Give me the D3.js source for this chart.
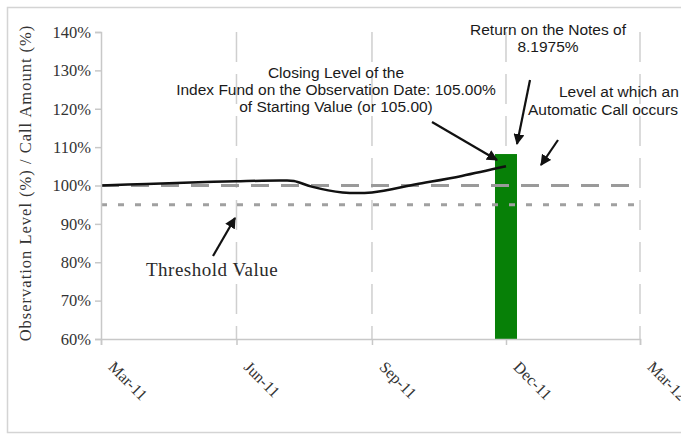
<!DOCTYPE html>
<html>
<head>
<meta charset="utf-8">
<script src="https://cdn.jsdelivr.net/npm/d3@7"></script>
<style>
  body { margin: 0; background: #fff; }
  svg { display: block; }
</style>
</head>
<body>
<svg width="681" height="436"></svg>
<script>
// index level through the year (% of starting value)
var lineDates = ['2011-03-01', '2011-04-01', '2011-05-01', '2011-06-01', '2011-07-01', '2011-07-10',
                 '2011-07-22', '2011-08-12', '2011-09-01', '2011-10-01', '2011-11-01', '2011-12-01'];
var lineValues = [100.0, 100.4, 100.8, 101.1, 101.3, 101.2, 99.7, 98.2, 98.2, 100.3, 102.5, 105.0];

// call amount bar on the observation date
var barDate = '2011-12-01';
var barValue = 108.1975;

var callLevel = 100;
var thresholdLevel = 95;

var tickDates = ['2011-03-01', '2011-06-01', '2011-09-01', '2011-12-01', '2012-03-01'];
var yTicks = [60, 70, 80, 90, 100, 110, 120, 130, 140];

var parse = d3.timeParse('%Y-%m-%d');
var fmt = d3.timeFormat('%b-%y');

var svg = d3.select('svg');

// outer frame
svg.append('rect')
    .attr('x', 7.5).attr('y', 7.5)
    .attr('width', 700).attr('height', 425)
    .attr('fill', 'none')
    .attr('stroke', '#d4d4d4')
    .attr('stroke-width', 1.5);

var xScale = d3.scaleTime()
    .domain([parse('2011-03-01'), parse('2012-03-01')])
    .range([101, 640]);

var yScale = d3.scaleLinear()
    .domain([60, 140])
    .range([339, 32]);

// vertical grid lines
svg.selectAll('line.grid')
    .data(tickDates.slice(1))
    .enter()
    .append('line')
    .attr('class', 'grid')
    .attr('x1', function(d) { return xScale(parse(d)); })
    .attr('x2', function(d) { return xScale(parse(d)); })
    .attr('y1', yScale(140))
    .attr('y2', yScale(60))
    .attr('stroke', '#cfcfcf')
    .attr('stroke-width', 1.5)
    .attr('stroke-dasharray', '30,12');

// bar
var barW = 22;
svg.append('rect')
    .attr('x', xScale(parse(barDate)) - barW / 2)
    .attr('y', yScale(barValue))
    .attr('width', barW)
    .attr('height', yScale(60) - yScale(barValue))
    .style('fill', '#078007');

// reference lines
svg.append('line')
    .attr('x1', xScale.range()[0]).attr('x2', xScale.range()[1])
    .attr('y1', yScale(callLevel)).attr('y2', yScale(callLevel))
    .attr('stroke', '#9a9a9a')
    .attr('stroke-width', 3)
    .attr('stroke-dasharray', '18,12');

svg.append('line')
    .attr('x1', xScale.range()[0]).attr('x2', xScale.range()[1])
    .attr('y1', yScale(thresholdLevel)).attr('y2', yScale(thresholdLevel))
    .attr('stroke', '#a0a0a0')
    .attr('stroke-width', 3)
    .attr('stroke-dasharray', '6,11');

// index line
var pts = lineDates.map(function(d, i) { return [parse(d), lineValues[i]]; });
var line = d3.line()
    .x(function(d) { return xScale(d[0]); })
    .y(function(d) { return yScale(d[1]); })
    .curve(d3.curveCatmullRom.alpha(0.5));

svg.append('path')
    .datum(pts)
    .attr('d', line)
    .attr('fill', 'none')
    .attr('stroke', '#111')
    .attr('stroke-width', 2.5);

// axes
var xAxis = d3.axisBottom(xScale)
    .tickValues(tickDates.map(parse))
    .tickFormat(fmt)
    .tickSize(6);

var gx = svg.append('g')
    .attr('class', 'x axis')
    .attr('transform', 'translate(0,' + yScale(60) + ')')
    .call(xAxis);
gx.select('.domain').attr('stroke', '#c8c8c8').attr('stroke-width', 1.5);
gx.selectAll('.tick line').attr('stroke', '#c8c8c8').attr('stroke-width', 1.5);
gx.selectAll('.tick text')
    .attr('font-family', 'Liberation Serif, Times New Roman, serif')
    .attr('font-size', '16px')
    .attr('fill', '#333')
    .attr('text-anchor', 'start')
    .attr('dy', null)
    .attr('y', 0)
    .attr('transform', 'translate(6,29) rotate(45)');

var yAxis = d3.axisLeft(yScale)
    .tickValues(yTicks)
    .tickFormat(function(d) { return d + '%'; })
    .tickSize(6);

var gy = svg.append('g')
    .attr('class', 'y axis')
    .attr('transform', 'translate(' + xScale.range()[0] + ',0)')
    .call(yAxis);
gy.select('.domain').attr('stroke', '#c8c8c8').attr('stroke-width', 1.5);
gy.selectAll('.tick line').attr('stroke', '#c8c8c8').attr('stroke-width', 1.5);
gy.selectAll('.tick text')
    .attr('font-family', 'Liberation Serif, Times New Roman, serif')
    .attr('font-size', '16.5px')
    .attr('fill', '#333')
    .attr('x', -10);

svg.append('text')
    .attr('class', 'y label')
    .attr('transform', 'translate(31,183) rotate(-90)')
    .attr('text-anchor', 'middle')
    .attr('font-family', 'Liberation Serif, Times New Roman, serif')
    .attr('font-size', '16.5px')
    .attr('letter-spacing', '1px')
    .attr('fill', '#333')
    .text('Observation Level (%) / Call Amount (%)');

// annotations
var defs = svg.append('defs');
defs.append('marker')
    .attr('id', 'arr')
    .attr('viewBox', '0 0 10 10')
    .attr('refX', 9).attr('refY', 5)
    .attr('markerWidth', 5).attr('markerHeight', 5)
    .attr('markerUnits', 'strokeWidth')
    .attr('orient', 'auto')
    .append('path')
    .attr('d', 'M0,0 L10,5 L0,10 Z')
    .attr('fill', '#111');

function arrow(x1, y1, x2, y2) {
    svg.append('line')
        .attr('x1', x1).attr('y1', y1)
        .attr('x2', x2).attr('y2', y2)
        .attr('stroke', '#111')
        .attr('stroke-width', 2.2)
        .attr('marker-end', 'url(#arr)');
}

function label(lines, x, y, anchor, font, size) {
    var t = svg.append('text')
        .attr('text-anchor', anchor)
        .attr('font-family', font)
        .attr('font-size', size)
        .attr('fill', '#1a1a1a');
    lines.forEach(function(s, i) {
        t.append('tspan').attr('x', x).attr('y', y + i * 17).text(s);
    });
}

var sans = 'Liberation Sans, Arial, sans-serif';
label(['Closing Level of the', 'Index Fund on the Observation Date: 105.00%', 'of Starting Value (or 105.00)'],
      336, 78, 'middle', sans, '15.5px');
label(['Return on the Notes of', '8.1975%'], 548, 35, 'middle', sans, '15.5px');
label(['Level at which an'], 559, 97, 'start', sans, '15.5px');
label(['Automatic Call occurs'], 528, 115, 'start', sans, '15.5px');
svg.append('text')
    .attr('x', 146).attr('y', 276)
    .attr('font-family', 'Liberation Serif, Times New Roman, serif')
    .attr('font-size', '19px')
    .attr('letter-spacing', '0.5px')
    .attr('fill', '#2a2a2a')
    .text('Threshold Value');

arrow(213, 256, 235, 218);
arrow(432, 122, 497, 160);
arrow(530, 80, 517, 144);
arrow(558, 140, 541, 165);
</script>
</body>
</html>
